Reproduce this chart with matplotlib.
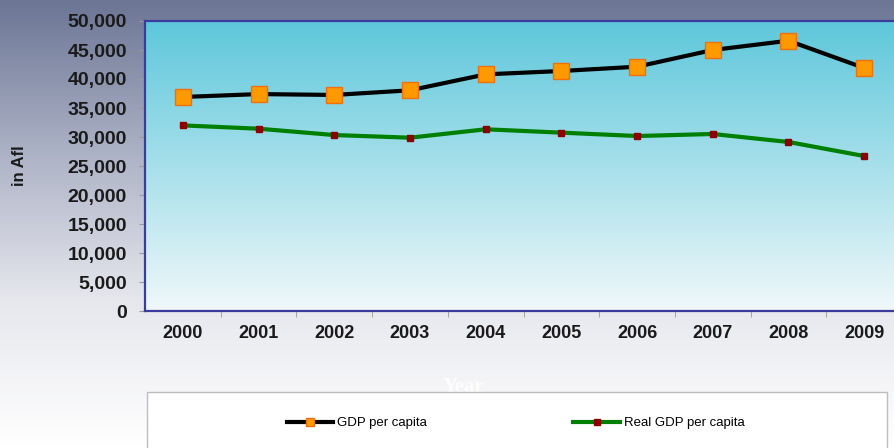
import numpy as np
import matplotlib
matplotlib.use("Agg")
import matplotlib.pyplot as plt
from matplotlib.colors import LinearSegmentedColormap
from matplotlib.lines import Line2D
from matplotlib.patches import Rectangle
from matplotlib.ticker import FuncFormatter, FixedLocator

plt.rcParams['font.family'] = ['Liberation Sans', 'DejaVu Sans']

# data
years = ['2000', '2001', '2002', '2003', '2004', '2005', '2006', '2007', '2008', '2009']
gdp_per_capita = [36900, 37400, 37250, 38050, 40800, 41380, 42120, 45000, 46600, 41900]
real_gdp_per_capita = [32000, 31430, 30340, 29880, 31330, 30750, 30170, 30520, 29140, 26720]
y_ticks = [0, 5000, 10000, 15000, 20000, 25000, 30000, 35000, 40000, 45000, 50000]

W, H = 894, 448
fig = plt.figure(figsize=(W / 100, H / 100), dpi=100)

# figure background gradient (grey-blue at top, white at bottom)
bg = fig.add_axes([0, 0, 1, 1], zorder=-10)
bg_cmap = LinearSegmentedColormap.from_list(
    'bg', [(0.0, '#6b7594'), (0.33, '#aab0c4'), (0.67, '#e6e7ed'), (1.0, '#ffffff')])
bg.imshow(np.linspace(0, 1, 256).reshape(-1, 1), cmap=bg_cmap, aspect='auto',
          extent=[0, 1, 0, 1])
bg.axis('off')

# main plot area (runs slightly past the right edge, like the original)
left, right, top, bottom = 145, 902, 21, 311
ax = fig.add_axes([left / W, 1 - bottom / H, (right - left) / W, (bottom - top) / H])
x = np.arange(len(years))
ax.set_xlim(-0.5, len(years) - 0.5)
ax.set_ylim(0, 50000)

area_cmap = LinearSegmentedColormap.from_list('area', ['#f0f8fa', '#5dc7db'])
ax.imshow(np.linspace(0, 1, 256).reshape(-1, 1), cmap=area_cmap, aspect='auto',
          origin='lower', extent=[-0.5, len(years) - 0.5, 0, 50000], zorder=0)

ax.plot(x, gdp_per_capita, color='black', lw=3, marker='s', ms=12,
        mfc='#ff9900', mec='#f07010', mew=1, zorder=3)
ax.plot(x, real_gdp_per_capita, color='#008000', lw=3, marker='s', ms=4.5,
        mfc='#8b0000', mec='#8b0000', zorder=3)

for s in ax.spines.values():
    s.set_color('#3c3c9c')
    s.set_linewidth(1.6)
ax.spines['right'].set_visible(False)

ax.yaxis.set_major_locator(FixedLocator(y_ticks))
ax.yaxis.set_major_formatter(FuncFormatter(lambda v, p: f'{v:,.0f}'))
ax.set_xticks(x)
ax.set_xticklabels(years)
ax.xaxis.set_minor_locator(FixedLocator(x[:-1] + 0.5))
ax.tick_params(axis='y', length=4, color='#9a9a9a', pad=9, labelsize=14)
ax.tick_params(axis='x', which='major', length=0, pad=10, labelsize=13)
ax.tick_params(axis='x', which='minor', length=4, color='#9a9a9a')
for lab in ax.get_yticklabels() + ax.get_xticklabels():
    lab.set_fontweight('bold')
    lab.set_color('#1a1a1a')

fig.text(20 / W, 1 - 166 / H, 'in Afl', rotation=90, fontsize=12, fontweight='bold',
         color='#1a1a1a', ha='center', va='center')
fig.text(463 / W, 1 - 387 / H, 'Year', fontsize=15, fontweight='bold',
         family='Liberation Serif', color='white', alpha=0.85,
         ha='center', va='center', zorder=1)

# legend box
fig.patches.append(Rectangle((147 / W, -0.2), (887 - 147) / W, 0.2 + 1 - 392 / H,
                             transform=fig.transFigure, facecolor='white',
                             edgecolor='#bdbdbd', lw=1, zorder=5))
handles = [
    Line2D([], [], color='black', lw=3, marker='s', ms=6, mfc='#ff9900', mec='#f07010'),
    Line2D([], [], color='#008000', lw=3, marker='s', ms=5, mfc='#8b0000', mec='#8b0000'),
]
leg = fig.legend(handles, ['GDP per capita', 'Real GDP per capita'], ncol=2,
                 loc='center left', bbox_to_anchor=(287 / W, 1 - 423 / H),
                 frameon=False, fontsize=9.5, handlelength=3.5, handletextpad=0.3,
                 columnspacing=11.1, borderpad=0, borderaxespad=0)
leg.set_zorder(6)

fig.savefig('out.png', dpi=100)
